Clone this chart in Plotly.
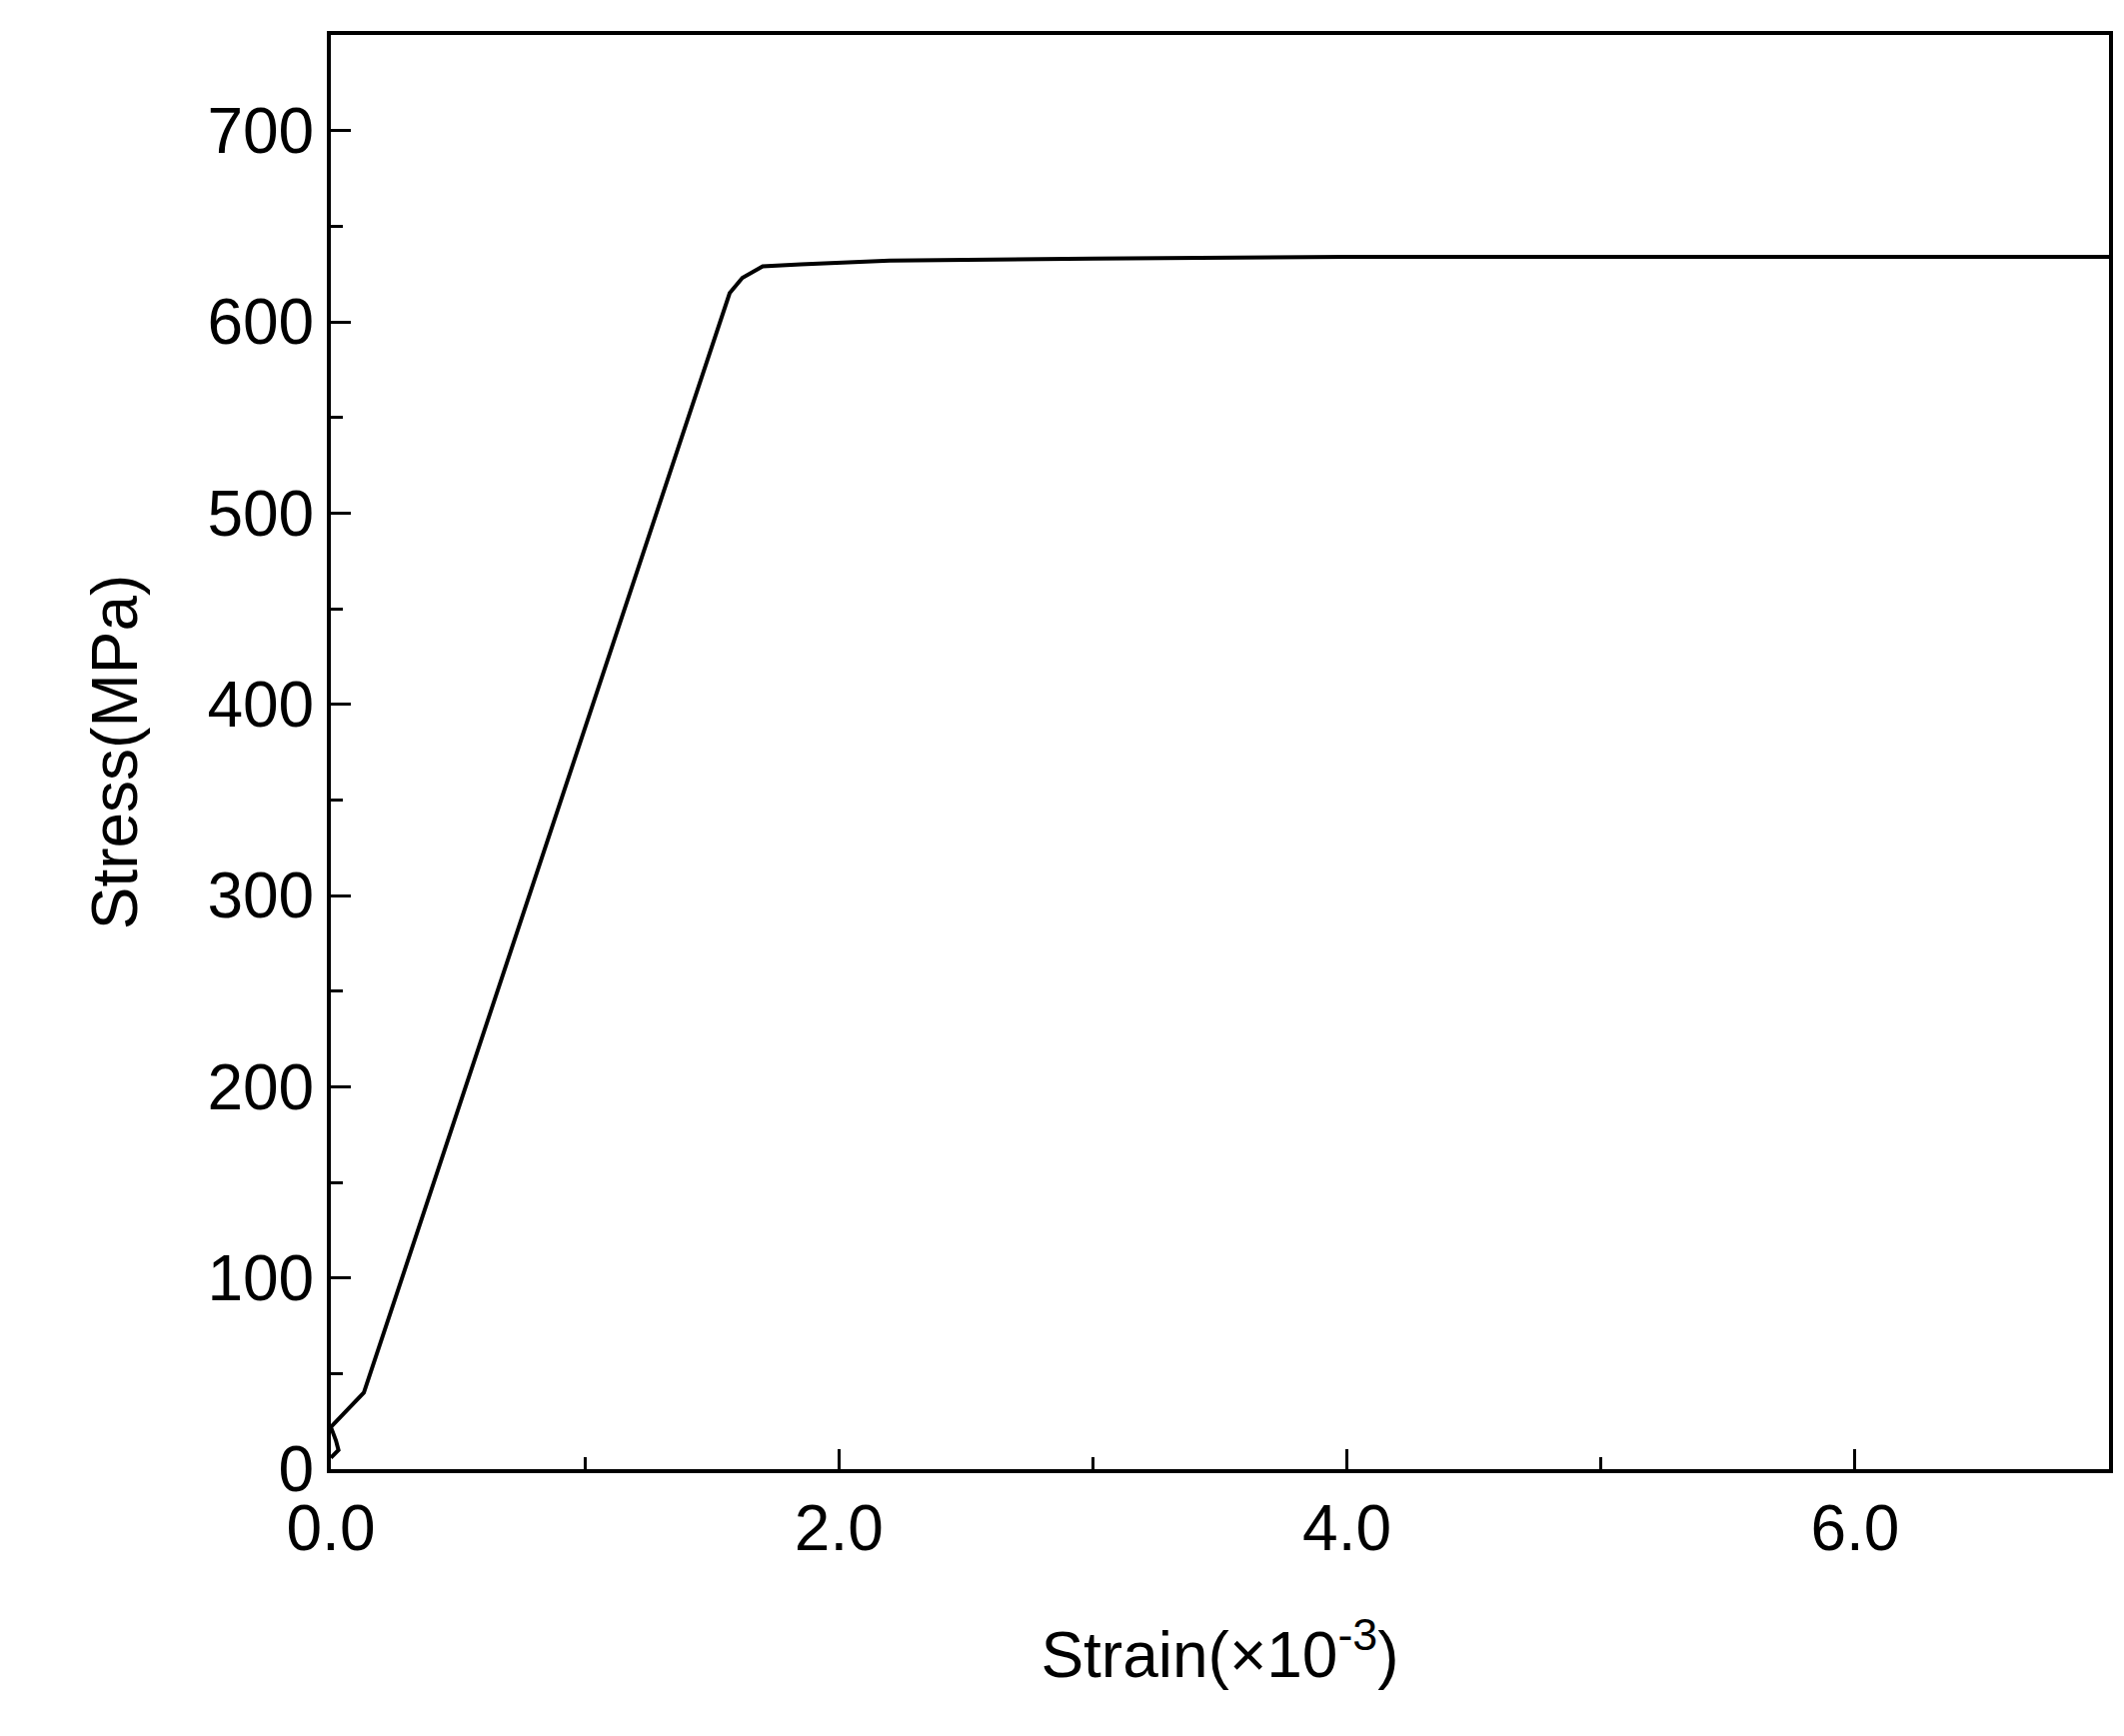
import plotly.graph_objects as go

# Stress-strain curve
strain = [0.0, 0.03, 0.02, 0.0, 0.13, 1.57, 1.62, 1.7, 1.85, 2.2, 3.0, 4.0, 5.5, 7.0]
stress = [6, 10, 15, 22, 40, 615, 623, 629, 630, 632, 633, 634, 634, 634]

fig = go.Figure()
fig.add_trace(go.Scatter(x=strain, y=stress, mode="lines",
                         line=dict(color="black", width=4), showlegend=False))

axis_common = dict(
    showline=True, linecolor="black", linewidth=4, mirror=True,
    showgrid=False, zeroline=False, ticks="inside", ticklen=20, tickwidth=3,
    tickcolor="black", tickfont=dict(size=64, color="black"),
    minor=dict(ticks="inside", ticklen=12, tickwidth=3, tickcolor="black"),
)

fig.update_xaxes(range=[0, 7.0], tickvals=[0, 2, 4, 6], ticktext=["0.0", "2.0", "4.0", "6.0"],
                 minor_dtick=1,
                 title=dict(text="Strain(×10<sup>-3</sup>)", font=dict(size=64, color="black"), standoff=70),
                 **axis_common)
fig.update_yaxes(range=[0, 750], dtick=100, minor_dtick=50,
                 title=dict(text="Stress(MPa)", font=dict(size=64, color="black"), standoff=50),
                 **axis_common)

fig.update_layout(
    width=2125, height=1737,
    margin=dict(l=323, r=23, t=27, b=275),
    plot_bgcolor="white", paper_bgcolor="white",
    font=dict(family="Liberation Sans, Arial"),
)

fig.write_html("out.html")
